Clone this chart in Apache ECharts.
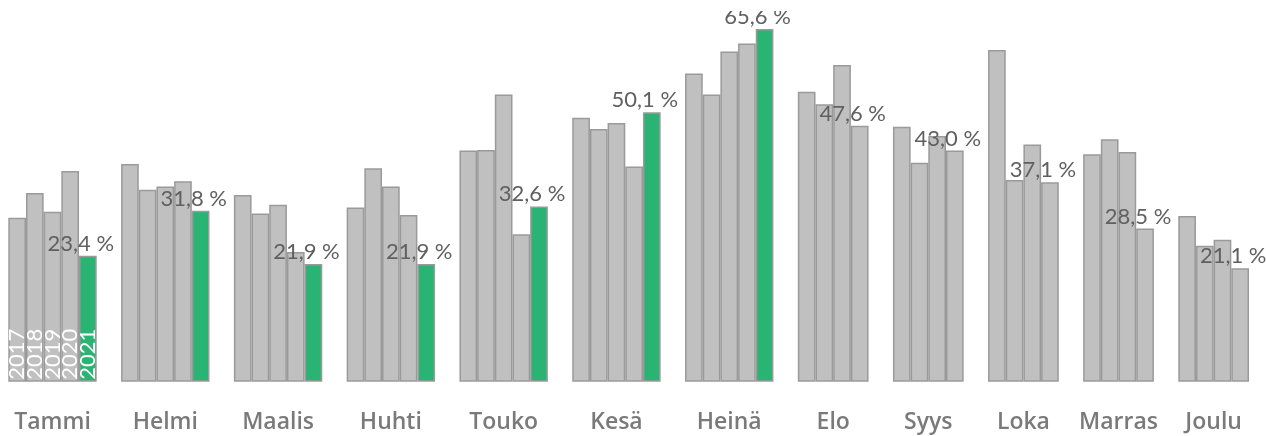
<!DOCTYPE html>
<html>
<head>
<meta charset="utf-8">
<script src="https://cdn.jsdelivr.net/npm/echarts@6/dist/echarts.min.js"></script>
<style>
  html, body { margin: 0; padding: 0; background: #fff; }
  #wrap { position: absolute; left: 0; top: 0; width: 1266px; height: 436px; overflow: hidden; }
  #chart { position: absolute; left: 0; top: 11px; width: 1266px; height: 425px; }
</style>
</head>
<body>
<div id="wrap"><div id="chart"></div></div>
<script>
const months = ['Tammi', 'Helmi', 'Maalis', 'Huhti', 'Touko', 'Kesä', 'Heinä', 'Elo', 'Syys', 'Loka', 'Marras', 'Joulu'];
const years = ['2017', '2018', '2019', '2020', '2021'];
const v2017 = [30.5, 40.5, 34.7, 32.4, 43.0, 49.1, 57.3, 53.9, 47.4, 61.7, 42.3, 30.8];
const v2018 = [35.1, 35.7, 31.3, 39.7, 43.1, 47.0, 53.4, 51.6, 40.7, 37.5, 45.1, 25.3];
const v2019 = [31.6, 36.3, 32.9, 36.3, 53.4, 48.1, 61.4, 58.9, 45.7, 44.1, 42.7, 26.4];
const v2020 = [39.2, 37.3, 24.1, 31.0, 27.4, 40.0, 62.9, 47.6, 43.0, 37.1, 28.5, 21.1];
const v2021 = [23.4, 31.8, 21.9, 21.9, 32.6, 50.1, 65.6, null, null, null, null, null];

const seriesByYear = [v2017, v2018, v2019, v2020, v2021];
const GAP = 1.38;          // gap between month groups, in bar widths
const FONT = 'Lato, "Open Sans", sans-serif';
const GREY = '#c0c0c0', GREEN = '#29b473', EDGE = '#9a9a9a';

const barData = [];
const yearLabelData = [];
const centers = [];
const centerName = {};
let cursor = 0;
months.forEach((m, mi) => {
  const vals = seriesByYear.map(s => s[mi]);
  const present = vals.map((v, yi) => ({ v, yi })).filter(o => o.v !== null);
  const n = present.length;
  present.forEach((o, i) => {
    const x = cursor + i + 0.5;
    const isLast = i === n - 1;
    const isCurrent = years[o.yi] === '2021';
    barData.push({
      value: [x, o.v],
      itemStyle: { color: isCurrent ? GREEN : GREY },
      label: {
        show: isLast,
        position: 'top',
        distance: 1,
        offset: [-7, 0],
        formatter: p => p.value[1].toFixed(1).replace('.', ',') + ' %',
        fontFamily: FONT,
        fontSize: 22,
        fontWeight: 'normal',
        color: '#606060'
      }
    });
    if (mi === 0) {
      yearLabelData.push({ value: [x, o.v], name: years[o.yi] });
    }
  });
  const c = cursor + n / 2;
  centers.push(c);
  centerName[c.toFixed(3)] = m;
  cursor += n + GAP;
});
const total = cursor - GAP;

const chart = echarts.init(document.getElementById('chart'), null, { renderer: 'canvas' });
chart.setOption({
  animation: false,
  grid: { left: 8.3, right: 17, top: 15.8, bottom: 54.3 },
  xAxis: {
    type: 'value',
    min: 0,
    max: total,
    axisLine: { show: false },
    axisTick: { show: false },
    splitLine: { show: false },
    axisLabel: {
      customValues: centers,
      formatter: v => centerName[Number(v).toFixed(3)] || '',
      fontFamily: '"Open Sans", Lato, sans-serif',
      fontSize: 23,
      fontWeight: 600,
      color: '#7a7a7a',
      margin: 29
    }
  },
  yAxis: {
    type: 'value',
    min: 0,
    max: 66,
    show: false
  },
  series: [
    {
      type: 'bar',
      barWidth: 17.7,
      barGap: '-100%',
      clip: false,
      itemStyle: { borderColor: EDGE, borderWidth: 1.5 },
      data: barData
    },
    {
      type: 'bar',
      barWidth: 17.7,
      barGap: '-100%',
      clip: false,
      silent: true,
      itemStyle: { color: 'rgba(0,0,0,0)', borderWidth: 0 },
      label: {
        show: true,
        position: 'insideBottom',
        rotate: 90,
        align: 'left',
        verticalAlign: 'middle',
        distance: 2,
        formatter: p => p.name,
        fontFamily: FONT,
        fontSize: 22,
        fontWeight: 'normal',
        color: '#fff'
      },
      data: yearLabelData
    }
  ]
});
</script>
</body>
</html>
